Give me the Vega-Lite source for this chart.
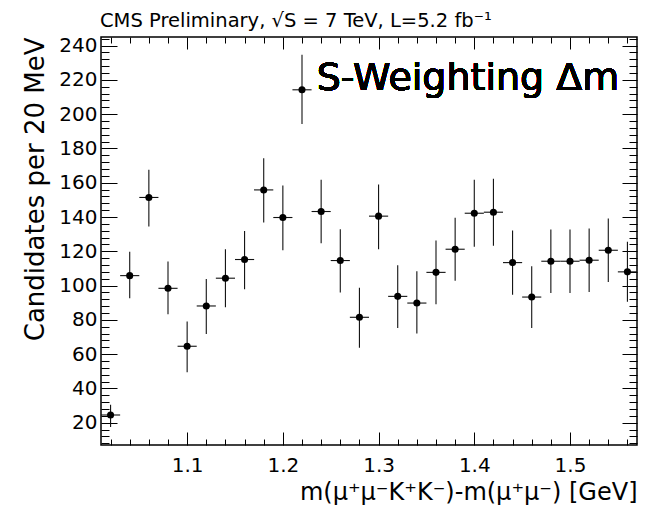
{
  "$schema": "https://vega.github.io/schema/vega-lite/v6.json",
  "width": 536,
  "height": 408,
  "autosize": "none",
  "padding": {"left": 101, "top": 37, "right": 11, "bottom": 65},
  "background": "white",
  "title": {
    "text": "CMS Preliminary, √S = 7 TeV, L=5.2 fb⁻¹",
    "anchor": "start",
    "frame": "group",
    "font": "DejaVu Sans",
    "fontSize": 19.5,
    "fontWeight": "normal",
    "color": "black",
    "baseline": "alphabetic",
    "offset": -11,
    "dx": -1
  },
  "data": {
    "values": [
      {"x": 1.02, "y": 24.5, "lo": 17.5, "hi": 30.5, "xlo": 1.01, "xhi": 1.03},
      {"x": 1.04, "y": 105.8, "lo": 92.6, "hi": 119.8, "xlo": 1.03, "xhi": 1.05},
      {"x": 1.06, "y": 151.4, "lo": 134.4, "hi": 167.5, "xlo": 1.05, "xhi": 1.07},
      {"x": 1.08, "y": 98.4, "lo": 83.3, "hi": 114.0, "xlo": 1.07, "xhi": 1.09},
      {"x": 1.10, "y": 64.6, "lo": 49.4, "hi": 79.0, "xlo": 1.09, "xhi": 1.11},
      {"x": 1.12, "y": 88.1, "lo": 71.8, "hi": 103.9, "xlo": 1.11, "xhi": 1.13},
      {"x": 1.14, "y": 104.3, "lo": 87.4, "hi": 121.2, "xlo": 1.13, "xhi": 1.15},
      {"x": 1.16, "y": 115.2, "lo": 97.9, "hi": 131.9, "xlo": 1.15, "xhi": 1.17},
      {"x": 1.18, "y": 155.8, "lo": 136.8, "hi": 174.3, "xlo": 1.17, "xhi": 1.19},
      {"x": 1.20, "y": 139.7, "lo": 120.6, "hi": 158.4, "xlo": 1.19, "xhi": 1.21},
      {"x": 1.22, "y": 214.2, "lo": 194.2, "hi": 234.6, "xlo": 1.21, "xhi": 1.23},
      {"x": 1.24, "y": 143.2, "lo": 124.7, "hi": 161.7, "xlo": 1.23, "xhi": 1.25},
      {"x": 1.26, "y": 114.6, "lo": 95.9, "hi": 132.9, "xlo": 1.25, "xhi": 1.27},
      {"x": 1.28, "y": 81.5, "lo": 63.8, "hi": 98.8, "xlo": 1.27, "xhi": 1.29},
      {"x": 1.30, "y": 140.5, "lo": 121.2, "hi": 158.9, "xlo": 1.29, "xhi": 1.31},
      {"x": 1.32, "y": 93.7, "lo": 75.3, "hi": 111.8, "xlo": 1.31, "xhi": 1.33},
      {"x": 1.34, "y": 89.8, "lo": 72.0, "hi": 108.3, "xlo": 1.33, "xhi": 1.35},
      {"x": 1.36, "y": 107.7, "lo": 89.1, "hi": 126.3, "xlo": 1.35, "xhi": 1.37},
      {"x": 1.38, "y": 121.2, "lo": 102.8, "hi": 139.6, "xlo": 1.37, "xhi": 1.39},
      {"x": 1.40, "y": 142.2, "lo": 122.7, "hi": 161.7, "xlo": 1.39, "xhi": 1.41},
      {"x": 1.42, "y": 142.8, "lo": 123.3, "hi": 162.3, "xlo": 1.41, "xhi": 1.43},
      {"x": 1.44, "y": 113.4, "lo": 94.7, "hi": 132.1, "xlo": 1.43, "xhi": 1.45},
      {"x": 1.46, "y": 93.3, "lo": 75.3, "hi": 111.3, "xlo": 1.45, "xhi": 1.47},
      {"x": 1.48, "y": 114.2, "lo": 95.7, "hi": 132.7, "xlo": 1.47, "xhi": 1.49},
      {"x": 1.50, "y": 114.2, "lo": 95.7, "hi": 132.7, "xlo": 1.49, "xhi": 1.51},
      {"x": 1.52, "y": 114.8, "lo": 96.3, "hi": 133.3, "xlo": 1.51, "xhi": 1.53},
      {"x": 1.54, "y": 120.6, "lo": 102.1, "hi": 139.1, "xlo": 1.53, "xhi": 1.55},
      {"x": 1.56, "y": 108.0, "lo": 90.5, "hi": 125.5, "xlo": 1.55, "xhi": 1.57}
    ]
  },
  "layer": [
    {
      "mark": {"type": "rule", "color": "#111111", "strokeWidth": 1.1},
      "encoding": {
        "x": {
          "field": "x", "type": "quantitative",
          "scale": {"domain": [1.01, 1.57], "nice": false, "zero": false},
          "axis": {
            "orient": "bottom",
            "values": [1.1, 1.2, 1.3, 1.4, 1.5],
            "format": ".1f",
            "domain": false, "grid": false,
            "tickSize": -13, "tickColor": "black", "tickWidth": 1,
            "labelFont": "DejaVu Sans", "labelFontSize": 20, "labelColor": "black",
            "labelPadding": 23, "labelFlush": false, "labelOverlap": false,
            "title": "m(μ⁺μ⁻K⁺K⁻)-m(μ⁺μ⁻) [GeV]",
            "titleFont": "DejaVu Sans", "titleFontSize": 24, "titleFontWeight": "normal", "titleColor": "black",
            "titleAnchor": "end", "titleAlign": "right", "titleBaseline": "alphabetic",
            "titleX": 536, "titleY": 54
          }
        },
        "y": {
          "field": "lo", "type": "quantitative",
          "scale": {"domain": [7, 245], "nice": false, "zero": false},
          "axis": {
            "orient": "left",
            "values": [20, 40, 60, 80, 100, 120, 140, 160, 180, 200, 220, 240],
            "domain": false, "grid": false,
            "tickSize": -16, "tickColor": "black", "tickWidth": 1,
            "labelFont": "DejaVu Sans", "labelFontSize": 20, "labelColor": "black",
            "labelPadding": 20, "labelFlush": false, "labelOverlap": false,
            "title": "Candidates per 20 MeV",
            "titleFont": "DejaVu Sans", "titleFontSize": 26, "titleFontWeight": "normal", "titleColor": "black",
            "titleAngle": -90, "titleAlign": "right", "titleBaseline": "alphabetic",
            "titleX": -58, "titleY": 0
          }
        },
        "y2": {"field": "hi"}
      }
    },
    {
      "mark": {"type": "rule", "color": "#111111", "strokeWidth": 1.1},
      "encoding": {
        "x": {"field": "xlo", "type": "quantitative", "axis": null, "scale": {"domain": [1.01, 1.57], "nice": false, "zero": false}},
        "x2": {"field": "xhi"},
        "y": {"field": "y", "type": "quantitative", "axis": null, "scale": {"domain": [7, 245], "nice": false, "zero": false}}
      }
    },
    {
      "mark": {"type": "circle", "color": "black", "opacity": 1, "size": 50},
      "encoding": {
        "x": {"field": "x", "type": "quantitative", "axis": null, "scale": {"domain": [1.01, 1.57], "nice": false, "zero": false}},
        "y": {"field": "y", "type": "quantitative", "axis": null, "scale": {"domain": [7, 245], "nice": false, "zero": false}}
      }
    },
    {
      "mark": {"type": "text", "text": "S-Weighting Δm", "font": "DejaVu Sans", "fontSize": 38, "color": "black", "align": "right", "baseline": "alphabetic"},
      "encoding": {
        "x": {"datum": 1.5515, "type": "quantitative", "axis": null, "scale": {"domain": [1.01, 1.57], "nice": false, "zero": false}},
        "y": {"datum": 214.3, "type": "quantitative", "axis": null, "scale": {"domain": [7, 245], "nice": false, "zero": false}}
      }
    },
    {
      "mark": {"type": "point", "opacity": 0},
      "encoding": {
        "x": {
          "field": "x", "type": "quantitative",
          "scale": {"domain": [1.01, 1.57], "nice": false, "zero": false},
          "axis": {"orient": "bottom", "values": [1.02, 1.04, 1.06, 1.08, 1.12, 1.14, 1.16, 1.18, 1.22, 1.24, 1.26, 1.28, 1.32, 1.34, 1.36, 1.38, 1.42, 1.44, 1.46, 1.48, 1.52, 1.54, 1.56], "domain": false, "grid": false, "labels": false, "title": null, "tickSize": -6, "tickColor": "black", "tickWidth": 1}
        },
        "y": {
          "field": "y", "type": "quantitative",
          "scale": {"domain": [7, 245], "nice": false, "zero": false},
          "axis": {"orient": "left", "values": [8, 12, 16, 24, 28, 32, 36, 44, 48, 52, 56, 64, 68, 72, 76, 84, 88, 92, 96, 104, 108, 112, 116, 124, 128, 132, 136, 144, 148, 152, 156, 164, 168, 172, 176, 184, 188, 192, 196, 204, 208, 212, 216, 224, 228, 232, 236, 244], "domain": false, "grid": false, "labels": false, "title": null, "tickSize": -8, "tickColor": "black", "tickWidth": 1}
        }
      }
    },
    {
      "mark": {"type": "point", "opacity": 0},
      "encoding": {
        "x": {
          "field": "x", "type": "quantitative",
          "scale": {"domain": [1.01, 1.57], "nice": false, "zero": false},
          "axis": {"orient": "top", "values": [1.1, 1.2, 1.3, 1.4, 1.5], "domain": false, "grid": false, "labels": false, "title": null, "tickSize": -12, "tickColor": "black", "tickWidth": 1}
        },
        "y": {
          "field": "y", "type": "quantitative",
          "scale": {"domain": [7, 245], "nice": false, "zero": false},
          "axis": {"orient": "right", "values": [20, 40, 60, 80, 100, 120, 140, 160, 180, 200, 220, 240], "domain": false, "grid": false, "labels": false, "title": null, "tickSize": -15, "tickColor": "black", "tickWidth": 1}
        }
      }
    },
    {
      "mark": {"type": "point", "opacity": 0},
      "encoding": {
        "x": {
          "field": "x", "type": "quantitative",
          "scale": {"domain": [1.01, 1.57], "nice": false, "zero": false},
          "axis": {"orient": "top", "values": [1.02, 1.04, 1.06, 1.08, 1.12, 1.14, 1.16, 1.18, 1.22, 1.24, 1.26, 1.28, 1.32, 1.34, 1.36, 1.38, 1.42, 1.44, 1.46, 1.48, 1.52, 1.54, 1.56], "domain": false, "grid": false, "labels": false, "title": null, "tickSize": -6, "tickColor": "black", "tickWidth": 1}
        },
        "y": {
          "field": "y", "type": "quantitative",
          "scale": {"domain": [7, 245], "nice": false, "zero": false},
          "axis": {"orient": "right", "values": [8, 12, 16, 24, 28, 32, 36, 44, 48, 52, 56, 64, 68, 72, 76, 84, 88, 92, 96, 104, 108, 112, 116, 124, 128, 132, 136, 144, 148, 152, 156, 164, 168, 172, 176, 184, 188, 192, 196, 204, 208, 212, 216, 224, 228, 232, 236, 244], "domain": false, "grid": false, "labels": false, "title": null, "tickSize": -8, "tickColor": "black", "tickWidth": 1}
        }
      }
    }
  ],
  "resolve": {"axis": {"x": "independent", "y": "independent"}},
  "config": {
    "view": {"stroke": "black", "strokeWidth": 1.5},
    "axis": {"tickCap": "butt"}
  }
}
